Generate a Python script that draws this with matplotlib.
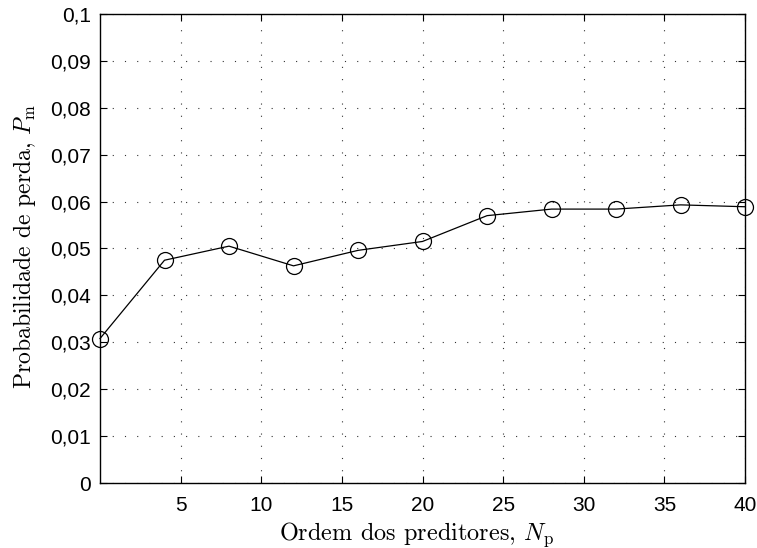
import matplotlib
matplotlib.use("Agg")
import matplotlib.pyplot as plt
from matplotlib.ticker import FuncFormatter

# data
ordem = [0, 4, 8, 12, 16, 20, 24, 28, 32, 36, 40]
prob_perda = [0.0308, 0.0475, 0.0505, 0.0463, 0.0496, 0.0515,
              0.0570, 0.0584, 0.0584, 0.0593, 0.0589]

x_ticks = [5, 10, 15, 20, 25, 30, 35, 40]
y_ticks = [0, 0.01, 0.02, 0.03, 0.04, 0.05, 0.06, 0.07, 0.08, 0.09, 0.1]

plt.rcParams['mathtext.fontset'] = 'cm'
plt.rcParams['font.family'] = 'Liberation Sans'

fig = plt.figure(figsize=(7.57, 5.48), dpi=100)
ax = fig.add_axes([0.1321, 0.1186, 0.8521, 0.8559])

ax.plot(ordem, prob_perda, color='black', linewidth=0.9, marker='o',
        markersize=11.5, markerfacecolor='none', markeredgecolor='black',
        markeredgewidth=0.9, clip_on=False, zorder=3)

ax.set_xlim(0, 40)
ax.set_ylim(0, 0.1)
ax.set_xticks(x_ticks)
ax.set_yticks(y_ticks)

def virgula(v, pos):
    s = ('%.2f' % v).rstrip('0').rstrip('.')
    return s.replace('.', ',')

ax.yaxis.set_major_formatter(FuncFormatter(virgula))
ax.tick_params(direction='in', top=True, right=True, length=5,
               width=0.8, labelsize=15)
ax.tick_params(axis='x', pad=9)
ax.tick_params(axis='y', pad=6.5)

ax.grid(True, color='#333333', linestyle=(0, (1, 10)), linewidth=0.8)
for s in ax.spines.values():
    s.set_linewidth(1.0)

ax.set_xlabel(r'Ordem dos preditores, $N_\mathrm{p}$', family='cmr10',
              fontsize=17.5, labelpad=4, x=0.49)
ax.set_ylabel(r'Probabilidade de perda, $P_\mathrm{m}$', family='cmr10',
              fontsize=17, labelpad=9, y=0.505)

fig.savefig('out.png', dpi=100)
